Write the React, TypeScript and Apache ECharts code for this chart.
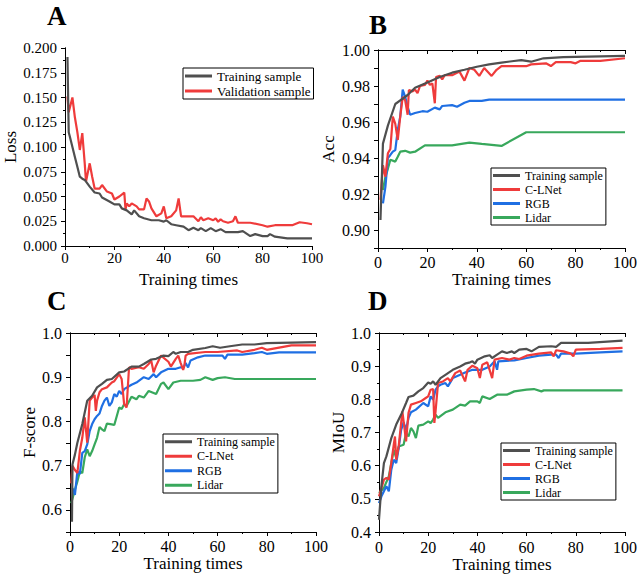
import React, { useEffect, useRef } from "react";
import * as echarts from "echarts";

const FONT = "Liberation Serif";

const GRAY = "#4f4f4f";
const RED = "#ef3b3b";
const BLUE = "#1f6fe3";
const GREEN = "#38a85c";

const panelLetters = ["A", "B", "C", "D"];
const yNames = ["Loss", "Acc", "F-score", "MIoU"];
const xName = "Training times";
const legendA = ["Training sample", "Validation sample"];
const legendBCD = ["Training sample", "C-LNet", "RGB", "Lidar"];

// Panel A: Loss
const lossTrain = [[1,0.191],[1.5,0.115],[2,0.11],[3,0.1],[4,0.09],[5,0.08],[6,0.07],[7,0.068],[8,0.0667],[10,0.06],[12,0.054],[14,0.053],[15,0.049],[18,0.045],[20,0.042],[22,0.042],[23,0.038],[25,0.036],[27,0.032],[28,0.036],[30,0.03],[32,0.028],[35,0.026],[38,0.026],[40,0.0246],[41,0.026],[43,0.022],[45,0.021],[48,0.0195],[50,0.016],[52,0.0185],[54,0.016],[55,0.018],[57,0.015],[59,0.018],[61,0.015],[63,0.017],[65,0.014],[70,0.014],[72,0.015],[75,0.01],[77,0.012],[80,0.01],[82,0.01],[83,0.012],[85,0.0094],[90,0.0077],[100,0.0077]];
const lossVal = [[1,0.151],[1.5,0.135],[3,0.15],[4,0.13],[5,0.115],[6,0.097],[7,0.114],[8,0.083],[8.5,0.065],[10,0.0835],[11,0.07],[12,0.058],[14,0.058],[15,0.0616],[17,0.055],[19,0.053],[20,0.047],[22,0.05],[24,0.054],[24.5,0.037],[25,0.043],[26,0.04],[27,0.043],[29,0.04],[30,0.037],[32,0.037],[33,0.048],[34,0.045],[35,0.038],[37,0.03],[39,0.033],[40,0.04],[41,0.028],[43,0.03],[45,0.036],[46,0.048],[47,0.03],[52,0.03],[54,0.025],[55,0.029],[56,0.026],[58,0.028],[60,0.026],[61,0.028],[62,0.0245],[63,0.027],[64,0.025],[66,0.0235],[68,0.025],[69,0.03],[70,0.0235],[75,0.0235],[80,0.021],[82,0.0195],[85,0.021],[92,0.021],[95,0.024],[98,0.023],[100,0.022]];

// Panel B: Acc
const accTrain = [[1,0.9056],[2,0.948],[4,0.958],[7,0.97],[10,0.973],[12,0.975],[15,0.979],[20,0.982],[25,0.985],[30,0.9874],[35,0.989],[40,0.9907],[45,0.992],[50,0.993],[55,0.9939],[58,0.9944],[62,0.9935],[67,0.9954],[75,0.996],[100,0.9967]];
const accCL = [[1,0.9167],[2,0.936],[3,0.9296],[4,0.9426],[5,0.945],[6,0.963],[7,0.959],[8,0.95],[9,0.963],[10,0.974],[11,0.972],[12,0.964],[12.5,0.9778],[14,0.977],[15,0.978],[16,0.976],[17,0.98],[19,0.9806],[20,0.983],[21,0.9806],[22,0.9815],[23,0.9704],[23.5,0.985],[25,0.9856],[26,0.9837],[27,0.986],[30,0.986],[33,0.988],[35,0.983],[37,0.99],[39,0.989],[41,0.9856],[43,0.99],[46,0.9856],[48,0.989],[50,0.9911],[55,0.991],[60,0.991],[62,0.992],[68,0.9926],[70,0.9911],[72,0.9933],[78,0.9933],[80,0.9926],[82,0.994],[90,0.994],[100,0.9954]];
const accRGB = [[2,0.9148],[3,0.924],[4,0.94],[5,0.9417],[6,0.9435],[7,0.9444],[8,0.9556],[9,0.963],[10,0.978],[11,0.974],[12,0.9685],[13,0.964],[15,0.965],[18,0.966],[20,0.9657],[23,0.968],[25,0.967],[26,0.9689],[30,0.9694],[32,0.9685],[35,0.9707],[37,0.9717],[42,0.9717],[45,0.9724],[100,0.9724]];
const accLidar = [[2,0.9222],[3,0.9296],[4,0.934],[5,0.939],[7,0.938],[8,0.9407],[9,0.9435],[11,0.944],[13,0.943],[15,0.9435],[19,0.947],[30,0.947],[37,0.9485],[42,0.9478],[50,0.9467],[60,0.9543],[100,0.9543]];

// Panel C: F-score
const fTrain = [[0.8,0.573],[1,0.7025],[2,0.725],[3,0.752],[5,0.794],[7,0.847],[9,0.858],[11,0.877],[13,0.885],[15,0.894],[17,0.896],[20,0.911],[22,0.913],[25,0.924],[28,0.924],[30,0.93],[33,0.94],[35,0.9415],[38,0.949],[40,0.9476],[42,0.957],[43,0.953],[45,0.957],[48,0.957],[50,0.962],[55,0.966],[58,0.97],[61,0.9666],[65,0.97],[70,0.974],[75,0.974],[80,0.977],[100,0.9795]];
const fCL = [[0.5,0.66],[1,0.7],[2,0.69],[3,0.6835],[4,0.733],[5,0.763],[6,0.809],[7,0.752],[8,0.847],[9,0.854],[10,0.86],[10.5,0.824],[11,0.847],[12,0.866],[13,0.873],[15,0.877],[17,0.888],[18,0.891],[20,0.907],[21,0.896],[22,0.839],[23,0.8315],[24,0.9226],[25,0.919],[28,0.9226],[30,0.919],[32,0.93],[33,0.9378],[34,0.911],[35,0.926],[37,0.949],[40,0.935],[41,0.924],[43,0.9416],[44,0.949],[45,0.932],[46,0.9165],[46.5,0.926],[47,0.949],[48,0.953],[55,0.957],[60,0.957],[68,0.9605],[70,0.957],[75,0.962],[78,0.9666],[80,0.962],[90,0.972],[100,0.972]];
const fRGB = [[1,0.649],[2,0.634],[3,0.687],[4,0.681],[5,0.729],[6,0.733],[7,0.748],[8,0.778],[9,0.794],[10,0.805],[11,0.8125],[12,0.818],[13,0.835],[14,0.847],[15,0.854],[16,0.835],[17,0.843],[18,0.862],[19,0.856],[20,0.869],[21,0.862],[22,0.873],[25,0.883],[27,0.888],[30,0.9],[32,0.896],[34,0.907],[35,0.9],[37,0.911],[40,0.919],[43,0.919],[45,0.9226],[46,0.921],[47,0.932],[48,0.922],[49,0.9378],[52,0.945],[55,0.949],[62,0.949],[63,0.9416],[64,0.951],[70,0.951],[75,0.9545],[78,0.957],[80,0.953],[85,0.956],[100,0.956]];
const fLidar = [[0.5,0.615],[2,0.6455],[3,0.6645],[4,0.687],[5,0.6835],[6,0.719],[7,0.737],[8,0.7215],[9,0.733],[10,0.748],[11,0.763],[12,0.7875],[13,0.782],[14,0.778],[15,0.795],[17,0.7935],[18,0.792],[20,0.8315],[21,0.828],[22,0.839],[23,0.835],[25,0.856],[27,0.85],[28,0.858],[30,0.854],[32,0.869],[35,0.862],[37,0.885],[38,0.888],[40,0.873],[42,0.888],[45,0.892],[50,0.892],[53,0.894],[55,0.9],[58,0.894],[60,0.898],[63,0.9],[67,0.896],[100,0.896]];

// Panel D: MIoU
const mTrain = [[0,0.437],[1,0.54],[2,0.608],[3,0.628],[5,0.683],[7,0.724],[9,0.754],[11,0.789],[12,0.807],[14,0.811],[16,0.824],[18,0.834],[20,0.851],[21,0.847],[22,0.854],[23,0.844],[25,0.864],[27,0.874],[30,0.889],[33,0.899],[35,0.9075],[37,0.9116],[38,0.9146],[39,0.9075],[40,0.9196],[43,0.9296],[45,0.933],[46,0.9246],[48,0.935],[50,0.9447],[52,0.9397],[54,0.9447],[55,0.9397],[57,0.9497],[60,0.952],[62,0.9447],[65,0.958],[70,0.96],[72,0.958],[74,0.97],[85,0.97],[99,0.977]];
const mCL = [[0,0.5075],[2,0.558],[3,0.563],[4,0.558],[5,0.608],[6,0.663],[6.5,0.688],[7,0.618],[8,0.658],[9,0.729],[9.5,0.764],[10,0.734],[11,0.673],[12,0.759],[13,0.784],[15,0.789],[17,0.794],[19,0.804],[20,0.809],[21,0.829],[22,0.831],[22.5,0.729],[23,0.764],[24,0.849],[26,0.854],[28,0.864],[29,0.854],[31,0.879],[33,0.887],[35,0.854],[36,0.889],[38,0.9015],[40,0.894],[41,0.864],[42,0.9045],[44,0.9116],[46,0.864],[47,0.9196],[50,0.9246],[53,0.9196],[55,0.9246],[57,0.9216],[60,0.9317],[65,0.9377],[70,0.9417],[71,0.9296],[72,0.948],[75,0.9447],[78,0.9377],[79,0.9296],[80,0.9497],[90,0.952],[99,0.955]];
const mRGB = [[0,0.4874],[1,0.5075],[2,0.5226],[3,0.5377],[4,0.5226],[5,0.588],[6,0.618],[7,0.608],[8,0.653],[9,0.708],[10,0.7307],[11,0.708],[12,0.744],[13,0.761],[15,0.769],[18,0.789],[20,0.779],[21,0.809],[22,0.799],[23,0.829],[24,0.839],[25,0.844],[27,0.849],[28,0.839],[30,0.864],[33,0.874],[35,0.881],[38,0.889],[42,0.889],[45,0.899],[47,0.9146],[48,0.889],[48.5,0.9146],[55,0.9176],[60,0.9246],[65,0.9317],[70,0.9347],[72,0.9347],[73,0.9246],[74,0.9377],[80,0.9377],[90,0.9417],[99,0.9447]];
const mLidar = [[0,0.5176],[2,0.533],[4,0.568],[5,0.608],[6,0.648],[7,0.623],[8,0.658],[10,0.663],[11,0.6985],[12,0.688],[13,0.7136],[14,0.7035],[15,0.683],[16,0.7206],[18,0.7236],[20,0.7337],[21,0.7286],[22,0.739],[23,0.754],[24,0.744],[27,0.761],[30,0.769],[33,0.784],[35,0.781],[37,0.794],[40,0.794],[41,0.789],[42,0.809],[45,0.801],[48,0.814],[52,0.814],[55,0.824],[60,0.829],[63,0.831],[66,0.824],[67,0.827],[99,0.827]];

const panelSeries = [
  [lossTrain, lossVal],
  [accTrain, accCL, accRGB, accLidar],
  [fTrain, fCL, fRGB, fLidar],
  [mTrain, mCL, mRGB, mLidar],
];
const panelColors = [
  [GRAY, RED],
  [GRAY, RED, BLUE, GREEN],
  [GRAY, RED, BLUE, GREEN],
  [GRAY, RED, BLUE, GREEN],
];
const panelLegends = [legendA, legendBCD, legendBCD, legendBCD];

// layout
const grids = [
  { left: 65, top: 48, width: 247, height: 198 },
  { left: 378, top: 50, width: 247, height: 198 },
  { left: 70, top: 333, width: 246, height: 199 },
  { left: 379, top: 333, width: 246, height: 199 },
];
const titlePos = [
  { left: 47, top: 2 },
  { left: 369, top: 11 },
  { left: 47, top: 287 },
  { left: 368, top: 287 },
];
const legendPos = [
  { left: 183, top: 68, fontSize: 13, lineHeight: 14 },
  { left: 491, top: 168, fontSize: 12, lineHeight: 13 },
  { left: 163, top: 434, fontSize: 12, lineHeight: 13.5 },
  { left: 501, top: 443, fontSize: 12, lineHeight: 13 },
];
const yScales = [
  { min: 0, max: 0.2, interval: 0.025, dec: 3, every: 1, minor: true },
  { min: 0.89, max: 1.0, interval: 0.01, dec: 2, every: 2, minor: false },
  { min: 0.55, max: 1.0, interval: 0.05, dec: 1, every: 2, minor: false },
  { min: 0.4, max: 1.0, interval: 0.1, dec: 1, every: 1, minor: true },
];
const fontSizes = [15, 16, 16, 16];
const yNameGaps = [43, 41, 32, 31];
const xNameGaps = [25, 23, 23, 23];
const xLabelMargins = [4, 6, 6, 7];

function buildOption() {
  const axisLine = { show: true, lineStyle: { color: "#000", width: 1 } };
  const xAxis: any[] = [];
  const yAxis: any[] = [];
  grids.forEach((_, i) => {
    xAxis.push({
      type: "value",
      gridIndex: i,
      position: "bottom",
      min: 0,
      max: 100,
      interval: 20,
      name: xName,
      nameLocation: "middle",
      nameGap: xNameGaps[i],
      nameTextStyle: { fontFamily: FONT, fontSize: 17, fontWeight: "normal", color: "#000" },
      axisLine,
      axisTick: { show: true, inside: false, length: 4, lineStyle: { color: "#000" } },
      minorTick: { show: true, splitNumber: 2, length: 2, lineStyle: { color: "#000" } },
      axisLabel: { fontFamily: FONT, fontSize: fontSizes[i], color: "#000", margin: xLabelMargins[i] },
      splitLine: { show: false },
      minorSplitLine: { show: false },
    });
  });
  grids.forEach((_, i) => {
    xAxis.push({
      type: "value",
      gridIndex: i,
      position: "top",
      min: 0,
      max: 100,
      interval: 20,
      axisLine,
      axisTick: { show: true, inside: true, length: 4, lineStyle: { color: "#000" } },
      minorTick: { show: true, splitNumber: 2, length: 2, lineStyle: { color: "#000" } },
      axisLabel: { show: false },
      splitLine: { show: false },
    });
  });
  grids.forEach((_, i) => {
    const s = yScales[i];
    yAxis.push({
      type: "value",
      gridIndex: i,
      position: "left",
      min: s.min,
      max: s.max,
      interval: s.interval,
      name: yNames[i],
      nameLocation: "middle",
      nameGap: yNameGaps[i],
      nameRotate: 90,
      nameTextStyle: { fontFamily: FONT, fontSize: 17, fontWeight: "normal", color: "#000" },
      axisLine,
      axisTick: { show: true, inside: false, length: 4, lineStyle: { color: "#000" } },
      minorTick: { show: s.minor, splitNumber: 2, length: 2, lineStyle: { color: "#000" } },
      axisLabel: {
        fontFamily: FONT,
        fontSize: fontSizes[i],
        color: "#000",
        margin: 8,
        showMinLabel: true,
        showMaxLabel: true,
        formatter: (v: number) => {
          if (s.every > 1) {
            const step = s.interval * s.every;
            const r = Math.round(v / step);
            if (Math.abs(v - r * step) > 1e-6) return "";
          }
          return v.toFixed(s.dec);
        },
      },
      splitLine: { show: false },
      minorSplitLine: { show: false },
    });
  });
  grids.forEach((_, i) => {
    const s = yScales[i];
    yAxis.push({
      type: "value",
      gridIndex: i,
      position: "right",
      min: s.min,
      max: s.max,
      interval: s.interval,
      axisLine,
      axisTick: { show: true, inside: true, length: 4, lineStyle: { color: "#000" } },
      minorTick: { show: s.minor, splitNumber: 2, length: 2, lineStyle: { color: "#000" } },
      axisLabel: { show: false },
      splitLine: { show: false },
    });
  });

  const series: any[] = [];
  panelSeries.forEach((list, i) => {
    list.forEach((data, j) => {
      series.push({
        type: "line",
        name: panelLegends[i][j],
        xAxisIndex: i,
        yAxisIndex: i,
        data,
        symbol: "none",
        showSymbol: false,
        color: panelColors[i][j],
        lineStyle: { color: panelColors[i][j], width: 2.2 },
        z: 10 - j,
      });
    });
  });

  const title = panelLetters.map((t, i) => ({
    text: t,
    left: titlePos[i].left,
    top: titlePos[i].top,
    padding: 0,
    textStyle: { fontFamily: FONT, fontSize: 27, fontWeight: "bold", color: "#000" },
  }));

  const legend = panelLegends.map((names, i) => ({
    orient: "vertical",
    left: legendPos[i].left,
    top: legendPos[i].top,
    icon: "rect",
    itemWidth: 27,
    itemHeight: 3,
    itemGap: 1,
    padding: [1, 3, 1, 2],
    borderColor: "#000",
    borderWidth: 1,
    selectedMode: false,
    data: names.map((n, j) => ({ name: n, itemStyle: { color: panelColors[i][j] } })),
    textStyle: {
      fontFamily: FONT,
      fontSize: legendPos[i].fontSize,
      lineHeight: legendPos[i].lineHeight,
      color: "#000",
    },
  }));

  return {
    animation: false,
    backgroundColor: "#fff",
    textStyle: { fontFamily: FONT },
    title,
    legend,
    grid: grids.map((g) => ({ ...g, containLabel: false })),
    xAxis,
    yAxis,
    series,
  };
}

export default function App() {
  const ref = useRef<HTMLDivElement>(null);
  useEffect(() => {
    document.body.style.margin = "0";
    if (!ref.current) return;
    const chart = echarts.init(ref.current, null, { renderer: "svg" });
    chart.setOption(buildOption() as any);
    return () => chart.dispose();
  }, []);
  return <div ref={ref} style={{ width: 640, height: 576 }} />;
}
